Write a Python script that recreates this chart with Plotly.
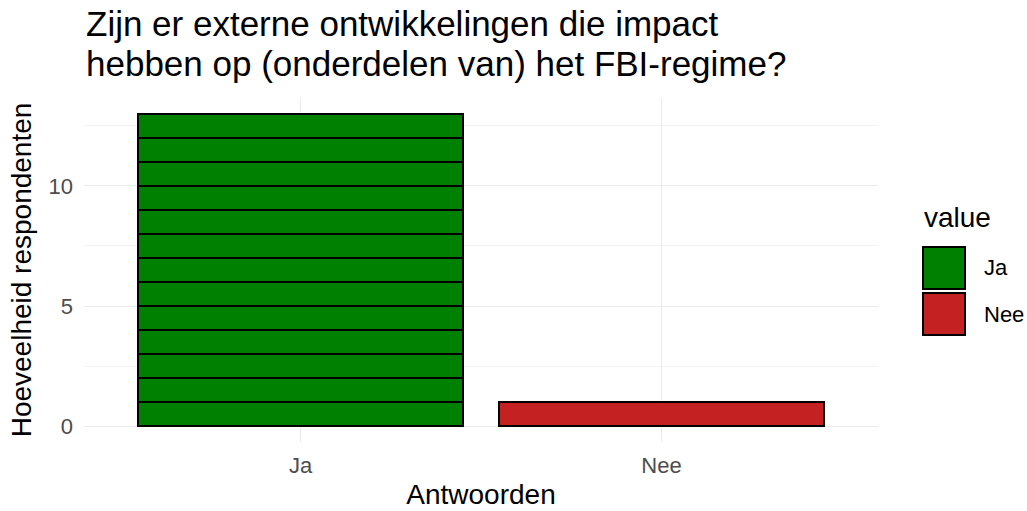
import plotly.graph_objects as go

categories = ["Ja", "Nee"]
counts = [13, 1]
colors = {"Ja": "#008000", "Nee": "#C42222"}
title_lines = ["Zijn er externe ontwikkelingen die impact",
               "hebben op (onderdelen van) het FBI-regime?"]
x_title = "Antwoorden"
y_title = "Hoeveelheid respondenten"
legend_title = "value"
y_ticks = [0, 5, 10]
y_minor = [2.5, 7.5, 12.5]

FONT = "Liberation Sans, Arial, sans-serif"

fig = go.Figure()
for cat, n in zip(categories, counts):
    for i in range(n):
        fig.add_trace(go.Bar(
            x=[cat], y=[1], width=0.9,
            marker=dict(color=colors[cat], line=dict(color="black", width=1.8)),
            showlegend=False, hoverinfo="x+y",
        ))

# title (two lines, tight ggplot-like spacing)
for k, line in enumerate(title_lines):
    fig.add_annotation(text=line, xref="paper", yref="paper", x=0.0, y=1.216 - k * 0.117,
                       xanchor="left", yanchor="middle", showarrow=False,
                       font=dict(family=FONT, size=35, color="black"))

# ggplot-like legend
fig.add_annotation(text=legend_title, xref="paper", yref="paper", x=1.0554, y=0.654,
                   xanchor="left", yanchor="middle", showarrow=False,
                   font=dict(family=FONT, size=28, color="black"))
key_tops = [0.5669, 0.4331]
key_h = 0.1221
for cat, top in zip(categories, key_tops):
    fig.add_shape(type="rect", xref="paper", yref="paper",
                  x0=1.0567, x1=1.1096, y0=top - key_h, y1=top,
                  fillcolor=colors[cat], line=dict(color="black", width=2))
    fig.add_annotation(text=cat, xref="paper", yref="paper", x=1.131,
                       y=top - key_h / 2, xanchor="left", yanchor="middle", showarrow=False,
                       font=dict(family=FONT, size=22, color="black"))

fig.update_layout(
    width=1027, height=511,
    barmode="stack", bargap=0.1,
    plot_bgcolor="white", paper_bgcolor="white",
    margin=dict(l=84, r=149, t=98, b=69, autoexpand=False),
    font=dict(family=FONT, color="black"),
    showlegend=False,
)
fig.update_xaxes(
    range=[-0.6, 1.6], categoryorder="array", categoryarray=categories,
    showgrid=True, gridcolor="#EBEBEB", gridwidth=1.2, zeroline=False,
    showline=False, ticks="", automargin=False, ticklabelstandoff=8,
    tickfont=dict(family=FONT, size=22, color="#4D4D4D"),
    title=dict(text=x_title, font=dict(family=FONT, size=28, color="black"), standoff=7),
)
fig.update_yaxes(
    range=[-0.65, 13.65], tickvals=y_ticks,
    showgrid=True, gridcolor="#EBEBEB", gridwidth=1.2, zeroline=False,
    minor=dict(tickvals=y_minor, showgrid=True, gridcolor="#F2F2F2", gridwidth=0.8),
    showline=False, ticks="", automargin=False, ticklabelstandoff=10,
    tickfont=dict(family=FONT, size=22, color="#4D4D4D"),
    title=dict(text=y_title, font=dict(family=FONT, size=28, color="black"), standoff=8),
)

fig.write_html("out.html", config={"displayModeBar": False},
               post_script="document.body.style.margin='0';document.body.style.overflow='hidden';")
